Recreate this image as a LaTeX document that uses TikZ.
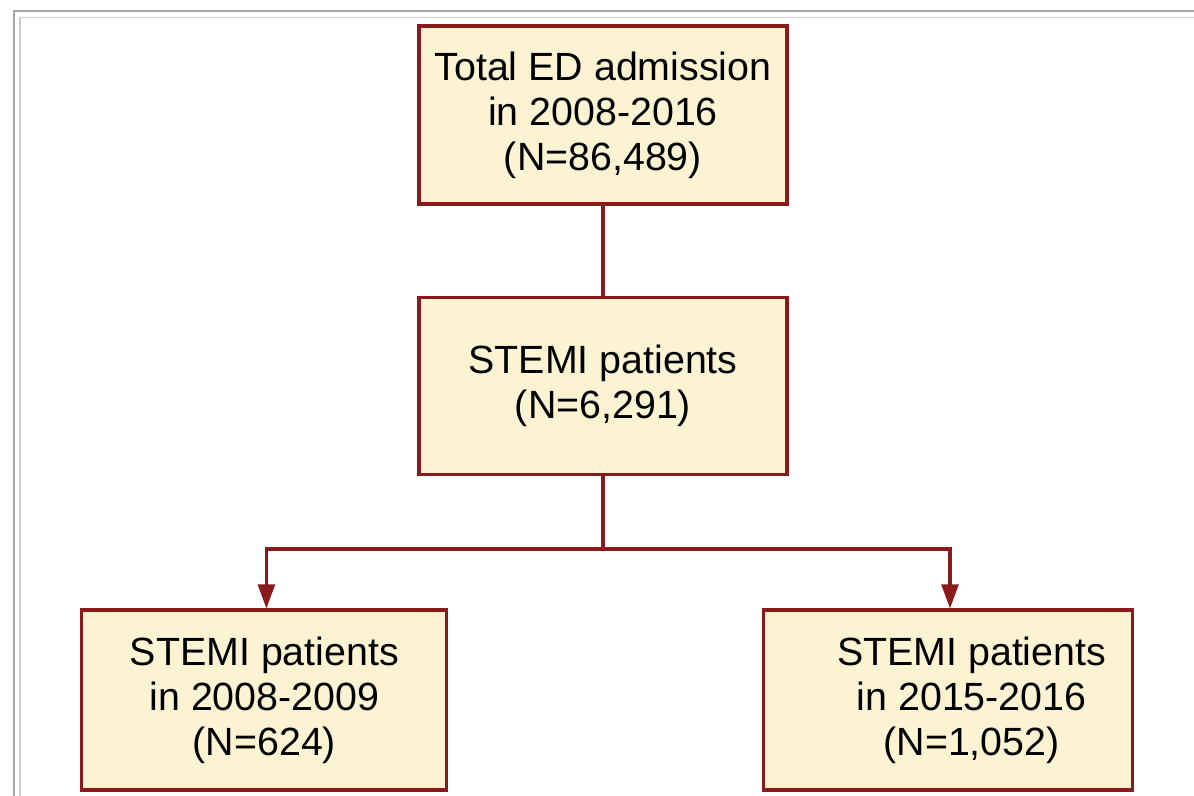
\documentclass[tikz,border=0pt]{standalone}
\usepackage{fontspec}
\setmainfont{Liberation Sans}
\usepackage{tikz}
\usetikzlibrary{arrows.meta}
\usetikzlibrary{positioning}
\definecolor{boxfill}{HTML}{FCF3D2}
\definecolor{boxline}{HTML}{8B1A1A}

\begin{document}
\begin{tikzpicture}[box/.style={draw=boxline,line width=2.2pt,fill=boxfill,minimum width=9.2cm,minimum height=4.45cm,align=center,font=\fontsize{28}{32}\selectfont,inner sep=0pt},
  txt/.style={align=center,font=\fontsize{28}{32}\selectfont,inner sep=0pt},
  link/.style={draw=boxline,line width=2.2pt},
  tip/.style={-{Triangle[width=0.42cm,length=0.6cm]}}]
  \useasboundingbox (0,0) rectangle (29.85,-19.875);
  % page frame
  \draw[gray!70,line width=1.2pt] (0.35,-21) |- (31,-0.28);
  \draw[gray!40,line width=0.8pt] (0.5,-21) |- (31,-0.43);

  \node[box] (total) at (15.075,-2.875) {Total ED admission\\in 2008-2016\\(N=86,489)};
  \node[box,minimum height=4.425cm] (stemi) at (15.075,-9.64) {STEMI patients\\(N=6,291)};
  \node[box,minimum width=9.125cm,minimum height=4.5cm] (early) at (6.61,-17.5) {STEMI patients\\in 2008-2009\\(N=624)};
  \node[box,minimum width=9.225cm,minimum height=4.5cm] (late) at (23.69,-17.5) {};
  \node[txt] (latetext) at ([xshift=0.6cm]late.center) {STEMI patients\\in 2015-2016\\(N=1,052)};

  \coordinate (split) at (15.075,-13.725);

  \draw[link](total)--(stemi);
  \draw[link](stemi)--(split);
  \draw[link,tip](split)-|([xshift=0.05cm]early.north);
  \draw[link,tip](split)-|([xshift=0.06cm]late.north);
\end{tikzpicture}
\end{document}
